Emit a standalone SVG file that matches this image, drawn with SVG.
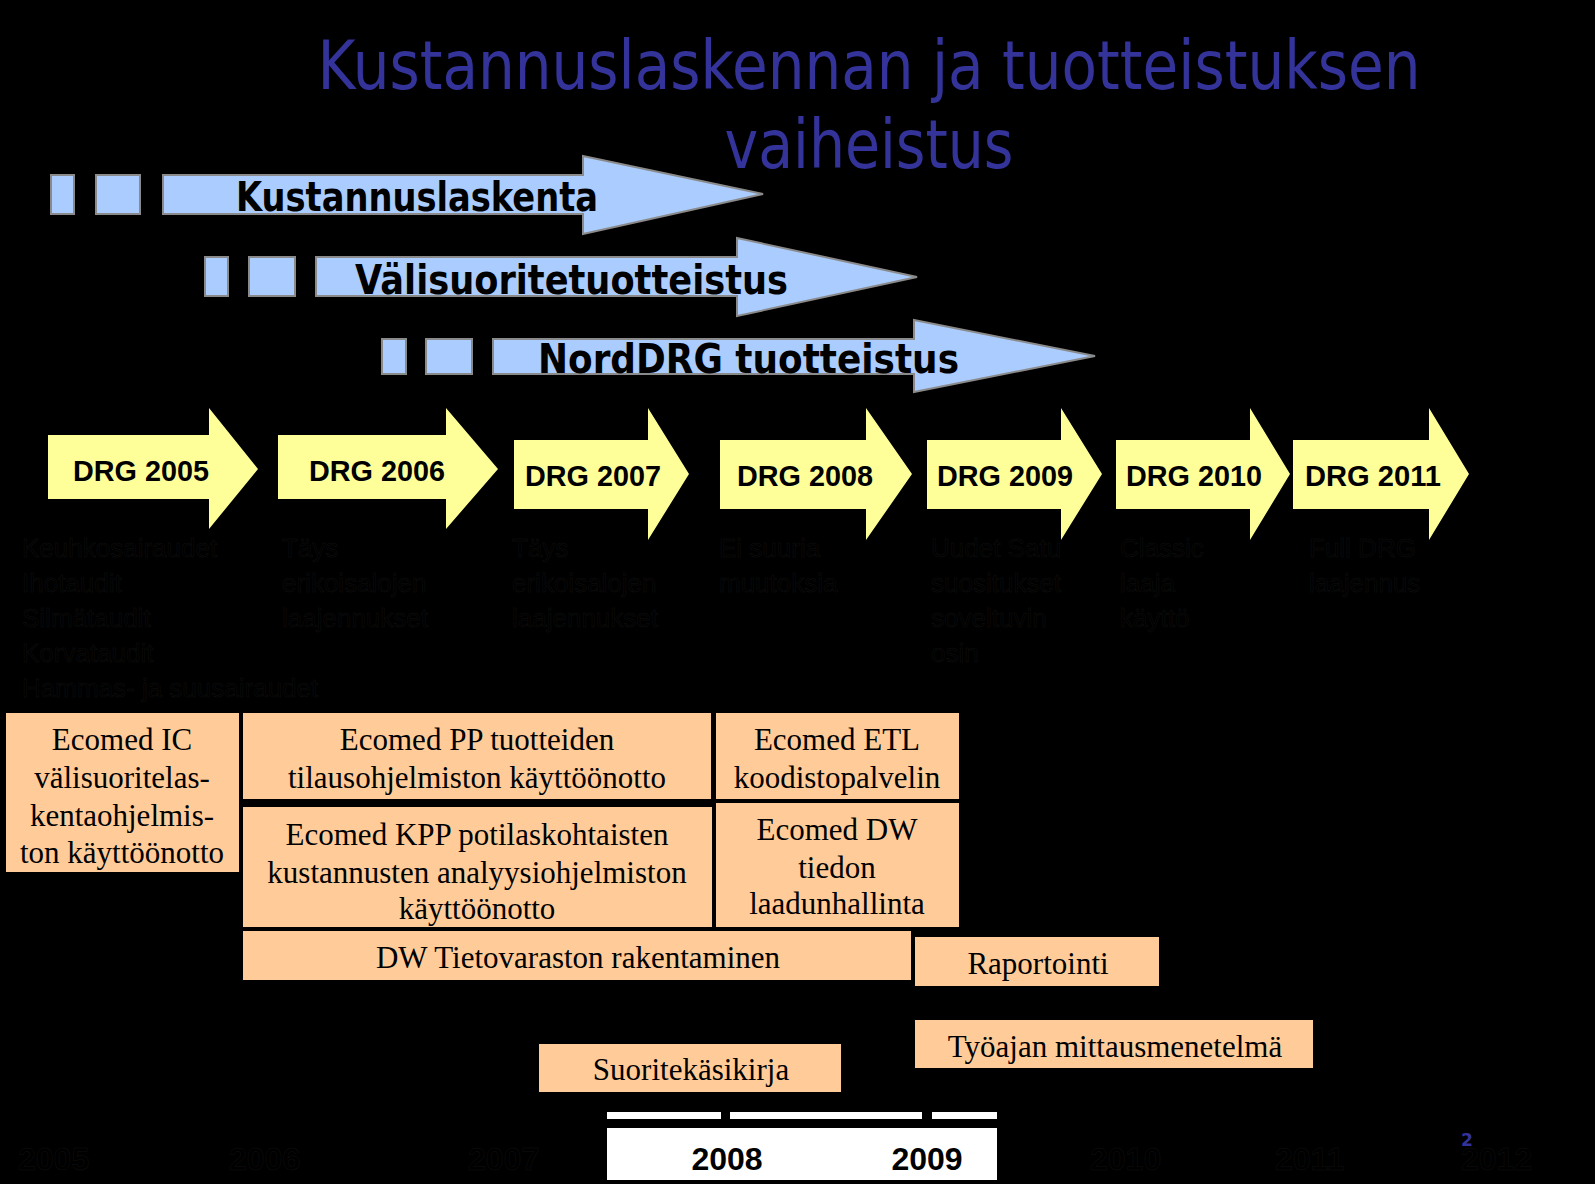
<svg xmlns="http://www.w3.org/2000/svg" width="1595" height="1184" viewBox="0 0 1595 1184">
<style>
.title{font-family:"DejaVu Sans","Liberation Sans",sans-serif;font-size:68px;fill:#333399;text-anchor:middle}
.band{fill:#AACCFF;stroke:#8a8a8a;stroke-width:2}
.bandtxt{font-family:"DejaVu Sans","Liberation Sans",sans-serif;font-weight:bold;font-size:40px;fill:#000}
.drg{fill:#FFFF99;stroke:none}
.drgtxt{font-family:"Liberation Sans",Arial,sans-serif;font-weight:bold;font-size:29px;fill:#000}
.note{font-family:"Liberation Sans",Arial,sans-serif;font-size:26px;fill:#000;stroke:#101010;stroke-width:0.5}
.box{fill:#FFCC99;stroke:#000;stroke-width:2}
.boxtxt{font-family:"Liberation Serif","Times New Roman",serif;font-size:31px;fill:#000;text-anchor:middle}
.year{font-family:"Liberation Sans",Arial,sans-serif;font-weight:bold;font-size:32px;fill:#000;stroke:#101010;stroke-width:0.5}
.yearv{font-family:"Liberation Sans",Arial,sans-serif;font-weight:bold;font-size:32px;fill:#000;text-anchor:middle}
</style>
<rect x="0" y="0" width="1595" height="1184" fill="#000"/>

<g id="title">
<text class="title" x="869" y="89" textLength="1103" lengthAdjust="spacingAndGlyphs">Kustannuslaskennan ja tuotteistuksen</text>
<text class="title" x="869" y="168" textLength="289" lengthAdjust="spacingAndGlyphs">vaiheistus</text>
</g>

<g id="band-kustannuslaskenta">
<rect class="band" x="51" y="175" width="23" height="39"/>
<rect class="band" x="96" y="175" width="44" height="39"/>
<path class="band" d="M163,175 H583 V156 L763,194 L583,234 V214 H163 Z"/>
<text class="bandtxt" x="236" y="211" textLength="362" lengthAdjust="spacingAndGlyphs">Kustannuslaskenta</text>
</g>
<g id="band-valisuorite">
<rect class="band" x="205" y="257" width="23" height="39"/>
<rect class="band" x="249" y="257" width="46" height="39"/>
<path class="band" d="M316,257 H737 V238 L917,277 L737,316 V296 H316 Z"/>
<text class="bandtxt" x="355" y="294" textLength="433" lengthAdjust="spacingAndGlyphs">Välisuoritetuotteistus</text>
</g>
<g id="band-norddrg">
<rect class="band" x="382" y="339" width="24" height="35"/>
<rect class="band" x="426" y="339" width="46" height="35"/>
<path class="band" d="M493,339 H914 V320 L1095,356 L914,392 V374 H493 Z"/>
<text class="bandtxt" x="538" y="373" textLength="421" lengthAdjust="spacingAndGlyphs">NordDRG tuotteistus</text>
</g>

<g id="drg2005">
<path class="drg" d="M48,435 H209 V408 L258,469 L209,529 V499 H48 Z"/>
<text class="drgtxt" x="73" y="481" textLength="136" lengthAdjust="spacingAndGlyphs">DRG 2005</text>
</g>
<g id="drg2006">
<path class="drg" d="M278,435 H446 V408 L498,469 L446,529 V499 H278 Z"/>
<text class="drgtxt" x="309" y="481" textLength="136" lengthAdjust="spacingAndGlyphs">DRG 2006</text>
</g>
<g id="drg2007">
<path class="drg" d="M514,440 H648 V408 L689,474 L648,540 V509 H514 Z"/>
<text class="drgtxt" x="525" y="486" textLength="136" lengthAdjust="spacingAndGlyphs">DRG 2007</text>
</g>
<g id="drg2008">
<path class="drg" d="M720,440 H866 V408 L912,474 L866,540 V509 H720 Z"/>
<text class="drgtxt" x="737" y="486" textLength="136" lengthAdjust="spacingAndGlyphs">DRG 2008</text>
</g>
<g id="drg2009">
<path class="drg" d="M927,440 H1061 V408 L1102,474 L1061,540 V509 H927 Z"/>
<text class="drgtxt" x="937" y="486" textLength="136" lengthAdjust="spacingAndGlyphs">DRG 2009</text>
</g>
<g id="drg2010">
<path class="drg" d="M1116,440 H1250 V408 L1290,474 L1250,540 V509 H1116 Z"/>
<text class="drgtxt" x="1126" y="486" textLength="136" lengthAdjust="spacingAndGlyphs">DRG 2010</text>
</g>
<g id="drg2011">
<path class="drg" d="M1293,440 H1429 V408 L1469,474 L1429,540 V509 H1293 Z"/>
<text class="drgtxt" x="1305" y="486" textLength="136" lengthAdjust="spacingAndGlyphs">DRG 2011</text>
</g>

<g id="notes">
<text class="note" x="22" y="557">Keuhkosairaudet</text>
<text class="note" x="22" y="592">Ihotaudit</text>
<text class="note" x="22" y="627">Silmätaudit</text>
<text class="note" x="22" y="662">Korvataudit</text>
<text class="note" x="22" y="697">Hammas- ja suusairaudet</text>
<text class="note" x="282" y="557">Täys</text>
<text class="note" x="282" y="592">erikoisalojen</text>
<text class="note" x="282" y="627">laajennukset</text>
<text class="note" x="512" y="557">Täys</text>
<text class="note" x="512" y="592">erikoisalojen</text>
<text class="note" x="512" y="627">laajennukset</text>
<text class="note" x="719" y="557">Ei suuria</text>
<text class="note" x="719" y="592">muutoksia</text>
<text class="note" x="931" y="557">Uudet Satu</text>
<text class="note" x="931" y="592">suositukset</text>
<text class="note" x="931" y="627">soveltuvin</text>
<text class="note" x="931" y="662">osin</text>
<text class="note" x="1120" y="557">Classic</text>
<text class="note" x="1120" y="592">laaja</text>
<text class="note" x="1120" y="627">käyttö</text>
<text class="note" x="1309" y="557">Full DRG</text>
<text class="note" x="1309" y="592">laajennus</text>
</g>

<g id="box-ic">
<rect class="box" x="5" y="712" width="235" height="161"/>
<text class="boxtxt" x="122" y="750">Ecomed IC</text>
<text class="boxtxt" x="122" y="788">välisuoritelas-</text>
<text class="boxtxt" x="122" y="826">kentaohjelmis-</text>
<text class="boxtxt" x="122" y="863">ton käyttöönotto</text>
</g>
<g id="box-pp">
<rect class="box" x="242" y="712" width="470" height="88"/>
<text class="boxtxt" x="477" y="750">Ecomed PP tuotteiden</text>
<text class="boxtxt" x="477" y="788">tilausohjelmiston käyttöönotto</text>
</g>
<g id="box-kpp">
<rect class="box" x="242" y="806" width="471" height="122"/>
<text class="boxtxt" x="477" y="845">Ecomed KPP potilaskohtaisten</text>
<text class="boxtxt" x="477" y="883">kustannusten  analyysiohjelmiston</text>
<text class="boxtxt" x="477" y="919">käyttöönotto</text>
</g>
<g id="box-etl">
<rect class="box" x="715" y="712" width="245" height="88"/>
<text class="boxtxt" x="837" y="750">Ecomed ETL</text>
<text class="boxtxt" x="837" y="788">koodistopalvelin</text>
</g>
<g id="box-dw">
<rect class="box" x="715" y="802" width="245" height="126"/>
<text class="boxtxt" x="837" y="840">Ecomed DW</text>
<text class="boxtxt" x="837" y="878">tiedon</text>
<text class="boxtxt" x="837" y="914">laadunhallinta</text>
</g>
<g id="box-tietovarasto">
<rect class="box" x="242" y="930" width="670" height="51"/>
<text class="boxtxt" x="578" y="968">DW Tietovaraston rakentaminen</text>
</g>
<g id="box-raportointi">
<rect class="box" x="914" y="936" width="246" height="51"/>
<text class="boxtxt" x="1038" y="974">Raportointi</text>
</g>
<g id="box-tyoajan">
<rect class="box" x="914" y="1019" width="400" height="50"/>
<text class="boxtxt" x="1115" y="1057">Työajan mittausmenetelmä</text>
</g>
<g id="box-suorite">
<rect class="box" x="538" y="1043" width="304" height="50"/>
<text class="boxtxt" x="691" y="1080">Suoritekäsikirja</text>
</g>

<g id="timeline">
<rect x="607" y="1112" width="114" height="7" fill="#fff"/>
<rect x="730" y="1112" width="192" height="7" fill="#fff"/>
<rect x="932" y="1112" width="65" height="7" fill="#fff"/>
<rect x="607" y="1128" width="390" height="52" fill="#fff"/>
<text class="yearv" x="727" y="1170">2008</text>
<text class="yearv" x="927" y="1170">2009</text>
<text class="year" x="18" y="1170">2005</text>
<text class="year" x="229" y="1170">2006</text>
<text class="year" x="468" y="1170">2007</text>
<text class="year" x="1090" y="1170">2010</text>
<text class="year" x="1275" y="1170">2011</text>
<text class="year" x="1461" y="1170">2012</text>
</g>
<text x="1467" y="1146" font-family="DejaVu Sans, sans-serif" font-weight="bold" font-size="17" fill="#333399" text-anchor="middle">2</text>
</svg>
